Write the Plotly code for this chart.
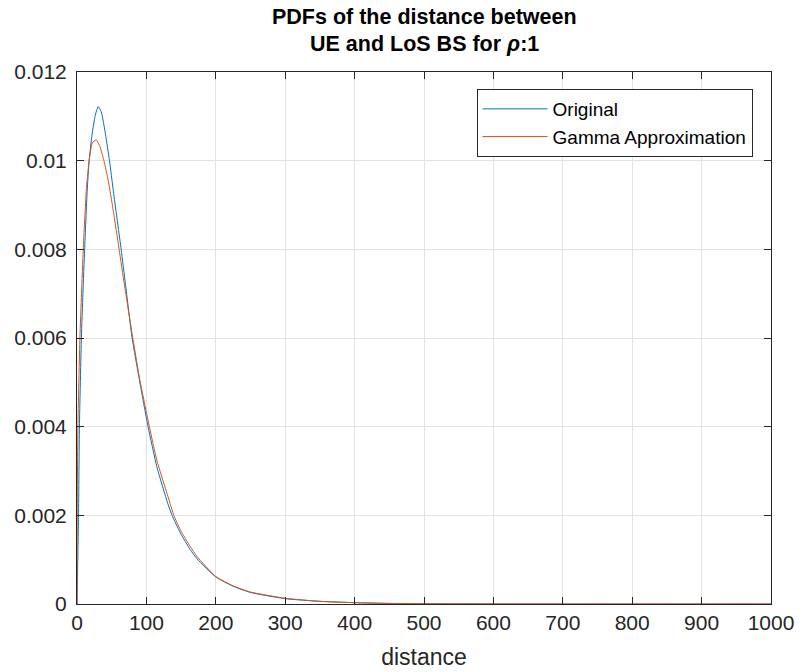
import plotly.graph_objects as go

# Original PDF
orig_x = [0, 1, 2.2, 3.5, 6.3, 8.5, 11, 14.6, 17.5, 21.8, 26, 30.5, 35, 41,
          46.8, 52.5, 63.6, 69.8, 79.4, 90, 102.4, 115, 130.7, 137, 149, 163, 173,
          200, 225, 250, 300, 350, 400, 450, 500, 600, 700, 800, 900, 1000]
orig_y = [0, 0.0009, 0.002, 0.004, 0.006, 0.007, 0.008, 0.0093, 0.0100,
          0.0106, 0.0110, 0.01122, 0.0111, 0.0106, 0.0100, 0.0093, 0.0080, 0.00722,
          0.0060, 0.00505, 0.0040, 0.0031, 0.00227, 0.0020, 0.00160, 0.00123,
          0.00102, 0.00061, 0.00040, 0.00026, 0.00012, 0.00006, 0.00003, 0.000012,
          0.000005, 0.000001, 0, 0, 0, 0]

# Gamma approximation
gam_x = [0, 0.3, 1.3, 4.2, 6.5, 9, 13.7, 17.5, 22, 27.7, 33, 38.8, 45, 52,
         60.7, 68.3, 79.4, 90, 104.3, 115, 133.5, 139.5, 149, 163, 173, 200, 225, 250,
         300, 350, 400, 450, 500, 600, 700, 800, 900, 1000]
gam_y = [0, 0.002, 0.004, 0.006, 0.007, 0.008, 0.0094, 0.0100, 0.0104,
         0.01047, 0.01032, 0.0100, 0.00955, 0.0089, 0.0080, 0.0072, 0.0061, 0.0051, 0.0040,
         0.00325, 0.0023, 0.0020, 0.00167, 0.00130, 0.00107, 0.00062, 0.00041, 0.00027,
         0.00013, 0.00006, 0.00003, 0.000013, 0.000005, 0.000001, 0, 0, 0, 0]

x_ticks = [0, 100, 200, 300, 400, 500, 600, 700, 800, 900, 1000]
y_ticks = [0, 0.002, 0.004, 0.006, 0.008, 0.01, 0.012]
y_tick_labels = ["0", "0.002", "0.004", "0.006", "0.008", "0.01", "0.012"]

title_lines = ["<b>PDFs of the distance between</b>",
               "<b>UE and LoS BS for <i>ρ</i>:1</b>"]

FONT = "Liberation Sans, Arial, Helvetica, sans-serif"
AX = "#262626"

fig = go.Figure()
fig.add_trace(go.Scatter(x=orig_x, y=orig_y, mode="lines", name="Original",
                         line=dict(color="#0072BD", width=1, shape="spline", smoothing=0.5)))
fig.add_trace(go.Scatter(x=gam_x, y=gam_y, mode="lines", name="Gamma Approximation",
                         line=dict(color="#D95319", width=1, shape="spline", smoothing=0.5)))

axis_common = dict(showline=True, linecolor=AX, linewidth=1, mirror="ticks",
                   ticks="inside", ticklen=7, tickcolor=AX, tickwidth=1,
                   showgrid=True, gridcolor="#e2e2e2", gridwidth=1, zeroline=False,
                   automargin=False,
                   tickfont=dict(family=FONT, size=21, color=AX))

fig.update_xaxes(range=[0, 1000], tickvals=x_ticks,
                 title=dict(text="distance", font=dict(family=FONT, size=23, color=AX), standoff=15),
                 **axis_common)
fig.update_yaxes(range=[0, 0.012], tickvals=y_ticks, ticktext=y_tick_labels,
                 ticklabelstandoff=5, **axis_common)

fig.update_layout(
    width=799, height=672, autosize=False,
    margin=dict(l=76.5, r=27.5, t=72, b=68),
    paper_bgcolor="white", plot_bgcolor="white",
    font=dict(family=FONT, color=AX),
    legend=dict(x=0.9734, y=0.968, xanchor="right", yanchor="top",
                bgcolor="white", bordercolor=AX, borderwidth=1,
                font=dict(family=FONT, size=19, color="black"),
                itemwidth=65, tracegroupgap=0),
    showlegend=True,
)

for txt, yy in zip(title_lines, [1.1028, 1.0523]):
    fig.add_annotation(text=txt, x=0.5, xref="paper", xanchor="center",
                       y=yy, yref="paper", yanchor="middle", showarrow=False,
                       font=dict(family=FONT, size=21.5, color="black"))

fig.write_html("out.html", config={"displayModeBar": False},
               post_script="document.body.style.margin='0';")
